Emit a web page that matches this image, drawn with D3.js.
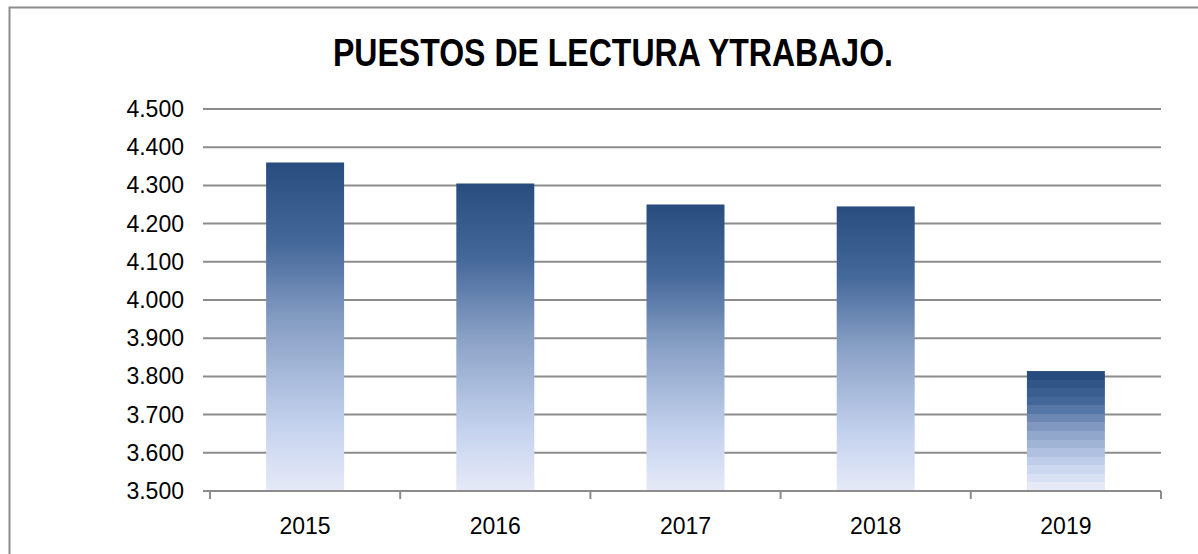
<!DOCTYPE html>
<html>
<head>
<meta charset="utf-8">
<script src="https://cdn.jsdelivr.net/npm/d3@7"></script>
<style>
  body { margin: 0; background: #fff; }
  svg { display: block; font-family: "Liberation Sans", Arial, sans-serif; }
</style>
</head>
<body>
<div id="chart"></div>
<script>
var years  = ['2015', '2016', '2017', '2018', '2019'];
var puestos = [4360, 4305, 4250, 4245, 3814];
var y_ticks = [3500, 3600, 3700, 3800, 3900, 4000, 4100, 4200, 4300, 4400, 4500];

var chart = {
  width:  1198,
  height: 554,
  left:   210,
  right:  1161,
  top:    109,
  bottom: 491
};

var es = d3.formatLocale({ decimal: ',', thousands: '.', grouping: [3], currency: ['', ' €'] });
var fmt = es.format(',');

var svg = d3.select('#chart').append('svg')
  .attr('width', chart.width)
  .attr('height', chart.height);

// outer frame (right / bottom edges fall off the picture)
svg.append('rect')
  .attr('x', 9.5).attr('y', 7.5)
  .attr('width', 1250).attr('height', 600)
  .style('fill', 'none')
  .style('stroke', '#8c8c8c')
  .style('stroke-width', 2);

svg.append('text')
  .attr('x', 333).attr('y', 66)
  .attr('textLength', 560)
  .attr('lengthAdjust', 'spacingAndGlyphs')
  .style('font-size', '38px')
  .style('font-weight', 'bold')
  .style('fill', '#000')
  .text('PUESTOS DE LECTURA YTRABAJO.');

var x = d3.scaleBand()
  .domain(years)
  .range([chart.left, chart.right])
  .paddingInner(0.59)
  .paddingOuter(0.295);

var y = d3.scaleLinear()
  .domain([3500, 4500])
  .range([chart.bottom, chart.top]);

// gradient
var ramp = d3.scaleLinear()
  .domain([0, 0.25, 0.5, 0.8, 1])
  .range(['#284c7e', '#46699b', '#8aa1c6', '#c4d2ee', '#e6eaf7'])
  .interpolate(d3.interpolateRgb);

var defs = svg.append('defs');

var smooth = defs.append('linearGradient')
  .attr('id', 'bar-grad')
  .attr('x1', 0).attr('y1', 0).attr('x2', 0).attr('y2', 1);
d3.range(0, 1.0001, 0.05).forEach(function(t) {
  smooth.append('stop').attr('offset', t).attr('stop-color', ramp(t));
});

// last bar shows visible banding in the original
var steps = 14;
var banded = defs.append('linearGradient')
  .attr('id', 'bar-grad-banded')
  .attr('x1', 0).attr('y1', 0).attr('x2', 0).attr('y2', 1);
d3.range(steps).forEach(function(i) {
  var c = ramp(i / (steps - 1));
  banded.append('stop').attr('offset', i / steps).attr('stop-color', c);
  banded.append('stop').attr('offset', (i + 1) / steps).attr('stop-color', c);
});

// gridlines
svg.append('g')
  .selectAll('line')
  .data(y_ticks.slice(1))
  .enter().append('line')
  .attr('x1', chart.left - 7)
  .attr('x2', chart.right)
  .attr('y1', function(d) { return y(d); })
  .attr('y2', function(d) { return y(d); })
  .style('stroke', '#8c8c8c')
  .style('stroke-width', 2);

// bars
svg.append('g')
  .selectAll('rect')
  .data(years)
  .enter().append('rect')
  .attr('x', function(d) { return x(d); })
  .attr('y', function(d, i) { return y(puestos[i]); })
  .attr('width', x.bandwidth())
  .attr('height', function(d, i) { return y(3500) - y(puestos[i]); })
  .style('fill', function(d, i) {
    return i === years.length - 1 ? 'url(#bar-grad-banded)' : 'url(#bar-grad)';
  });

// x axis line + category ticks
svg.append('line')
  .attr('x1', chart.left - 7).attr('x2', chart.right)
  .attr('y1', y(3500)).attr('y2', y(3500))
  .style('stroke', '#8c8c8c')
  .style('stroke-width', 2);

var step = x.step();
svg.append('g')
  .selectAll('line')
  .data(d3.range(years.length + 1))
  .enter().append('line')
  .attr('x1', function(i) { return chart.left + i * step; })
  .attr('x2', function(i) { return chart.left + i * step; })
  .attr('y1', y(3500))
  .attr('y2', y(3500) + 8)
  .style('stroke', '#8c8c8c')
  .style('stroke-width', 2);

// y tick labels
svg.append('g')
  .selectAll('text')
  .data(y_ticks)
  .enter().append('text')
  .attr('x', 184)
  .attr('y', function(d) { return y(d); })
  .attr('dy', '0.35em')
  .style('text-anchor', 'end')
  .style('font-size', '23px')
  .style('fill', '#000')
  .text(function(d) { return fmt(d); });

// x labels
svg.append('g')
  .selectAll('text')
  .data(years)
  .enter().append('text')
  .attr('x', function(d) { return x(d) + x.bandwidth() / 2; })
  .attr('y', 534)
  .style('text-anchor', 'middle')
  .style('font-size', '23px')
  .style('fill', '#000')
  .text(function(d) { return d; });
</script>
</body>
</html>
